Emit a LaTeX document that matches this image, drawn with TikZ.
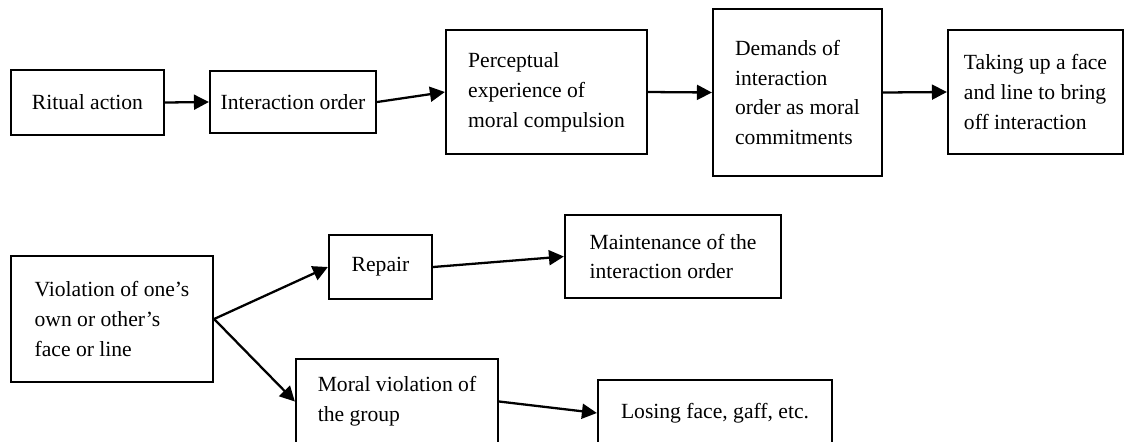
\documentclass[tikz,border=0pt]{standalone}
\usepackage{fontspec}
\setmainfont{Liberation Serif}
\usepackage{tikz}
\usetikzlibrary{arrows.meta}

\begin{document}
\begin{tikzpicture}[x=0.02cm,y=-0.02cm,
	box/.style={draw,line width=1.3pt,inner sep=0pt,
		font=\fontsize{12.3}{17}\selectfont},
	multi/.style={box,align=left},
	flow/.style={-{Triangle[length=8.5pt,width=8.5pt]},line width=1.3pt}]
			\useasboundingbox(0,0)rectangle(1126,441);
			% upper chain
			\node[box,minimum width=3.06cm,minimum height=1.3cm](ritual)at(87.5,102.5){Ritual action};
			\node[box,minimum width=3.32cm,minimum height=1.24cm](interorder)at(293,102){Interaction order};
			\node[multi,minimum width=4.02cm,minimum height=2.48cm](perceptual)at(546.5,92)
			{Perceptual\\experience of\\moral compulsion};
			\node[multi,minimum width=3.38cm,minimum height=3.34cm](demands)at(797.5,92.5)
			{Demands of\\interaction\\order as moral\\commitments};
			\node[multi,minimum width=3.5cm,minimum height=2.48cm](takeup)at(1035.5,92)
			{Taking up a face\\and line to bring\\off interaction};
			% lower branch
			\node[multi,minimum width=4.04cm,minimum height=2.52cm](violation)at(112,319)
			{Violation of one’s\\own or other’s\\face or line};
			\node[box,minimum width=2.06cm,minimum height=1.28cm](repair)at(380.5,267){Repair};
			\node[multi,minimum width=4.32cm,minimum height=1.66cm](maintain)at(673,256.5)
			{Maintenance of the\\interaction order};
			\node[multi,minimum width=4.04cm,minimum height=1.7cm](moralviol)at(397,401.5)
			{Moral violation of\\the group};
			\node[box,minimum width=4.68cm,minimum height=1.32cm](loseface)at(715,413)
			{Losing face, gaff, etc.};
			\foreach \a/\b in{ritual/interorder,interorder/perceptual,perceptual/demands,
				demands/takeup,violation/repair,violation/moralviol,
				repair/maintain,moralviol/loseface}
			{
				\draw[flow](\a.east)--(\b.west);
			}
		\end{tikzpicture}
\end{document}
